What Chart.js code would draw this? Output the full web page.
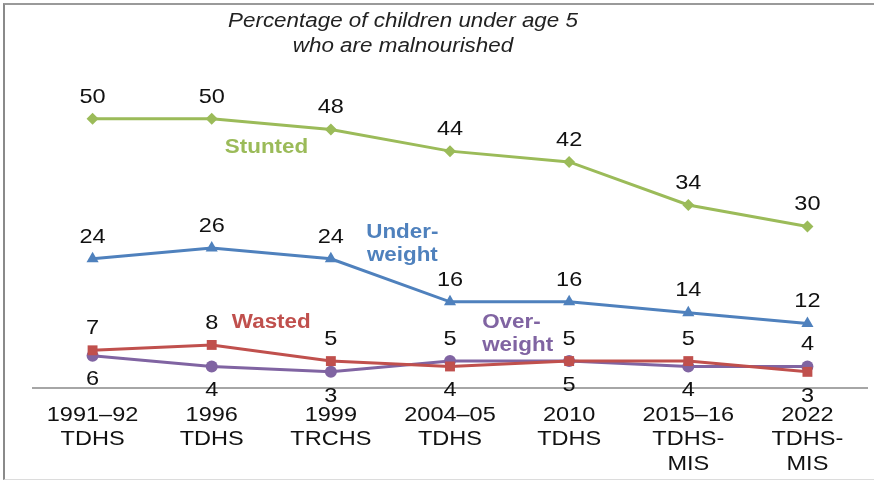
<!DOCTYPE html>
<html>
<head>
<meta charset="utf-8">
<script src="https://cdn.jsdelivr.net/npm/chart.js@4"></script>
<style>
    html, body { margin: 0; padding: 0; background: #fff; }
    #wrap { position: relative; width: 874px; height: 481px; }
    #frame {
        position: absolute; left: 3px; top: 3px; right: 0; bottom: 1px;
        border-top: 2px solid #9a9a9a; border-left: 2px solid #8a8a8a; border-bottom: 1px solid #dcdcdc;
        pointer-events: none;
    }
</style>
</head>
<body>
<div id="wrap">
    <canvas id="chart1" width="874" height="481"></canvas>
    <div id="frame"></div>
</div>
<script>
// Survey rounds (x axis)
const surveys = [
    ["1991\u201392", "TDHS"],
    ["1996", "TDHS"],
    ["1999", "TRCHS"],
    ["2004\u201305", "TDHS"],
    ["2010", "TDHS"],
    ["2015\u201316", "TDHS-", "MIS"],
    ["2022", "TDHS-", "MIS"]
];

// Percent of children under 5
const stunted = [50, 50, 48, 44, 42, 34, 30];
const underweight = [24, 26, 24, 16, 16, 14, 12];
const wasted = [7, 8, 5, 4, 5, 5, 3];
const overweight = [6, 4, 3, 5, 5, 4, 4];

const titleLines = ["Percentage of children under age 5", "who are malnourished"];

// which side of the point each value label sits on
const sides = {
    stunted: ["up", "up", "up", "up", "up", "up", "up"],
    underweight: ["up", "up", "up", "up", "up", "up", "up"],
    wasted: ["up", "up", "up", "down", "down", "up", "down"],
    overweight: ["down", "down", "down", "up", "up", "down", "up"]
};

// series names written next to the lines (x in category index, y in data units)
const seriesNames = [
    { lines: ["Stunted"], x: 1.46, y: 44.6, color: "#9BBB59", align: "center" },
    { lines: ["Under-", "weight"], x: 2.6, y: 26.8, color: "#4F81BD", align: "center" },
    { lines: ["Wasted"], x: 1.5, y: 12.2, color: "#C0504D", align: "center" },
    { lines: ["Over-", "weight"], x: 3.27, y: 10.1, color: "#8064A2", align: "left" }
];

const FONT = "'Liberation Sans', Arial, sans-serif";
const STRETCH = 1.12; // the original text is a bit wide

// text drawn slightly stretched sideways
function wideText(ctx, text, x, y, align) {
    ctx.save();
    ctx.translate(x, y);
    ctx.scale(STRETCH, 1);
    ctx.textAlign = align || "center";
    ctx.fillText(text, 0, 0);
    ctx.restore();
}

const decorPlugin = {
    id: "decor",
    afterDatasetsDraw(chart) {
        const ctx = chart.ctx;
        const xs = chart.scales.x;
        const ys = chart.scales.y;
        ctx.save();
        ctx.textBaseline = "middle";

        // title
        ctx.fillStyle = "#222";
        ctx.font = "italic 20px " + FONT;
        titleLines.forEach((t, i) => wideText(ctx, t, 403, 21 + i * 25));

        // x axis labels
        ctx.font = "21px " + FONT;
        ctx.fillStyle = "#111";
        surveys.forEach((lines, i) => {
            const x = xs.getPixelForValue(i);
            lines.forEach((line, j) => wideText(ctx, line, x, xs.top + 27 + j * 24.5));
        });

        // value labels
        chart.data.datasets.forEach((ds, di) => {
            const meta = chart.getDatasetMeta(di);
            meta.data.forEach((pt, i) => {
                const side = sides[ds.key][i];
                const y = side === "up" ? pt.y - 22 : pt.y + 24;
                wideText(ctx, String(ds.data[i]), pt.x, y);
            });
        });

        // series names
        ctx.font = "bold 20px " + FONT;
        seriesNames.forEach(s => {
            ctx.fillStyle = s.color;
            const x = xs.getPixelForValue(s.x);
            const yc = ys.getPixelForValue(s.y);
            s.lines.forEach((line, i) => {
                wideText(ctx, line, x, yc + (i - (s.lines.length - 1) / 2) * 23, s.align);
            });
        });

        ctx.restore();
    }
};

function makeSeries(key, data, color, style, radius) {
    return {
        key: key,
        data: data,
        borderColor: color,
        backgroundColor: color,
        borderWidth: 3,
        pointStyle: style,
        pointRadius: radius,
        pointHoverRadius: radius,
        pointBorderWidth: 0,
        tension: 0
    };
}

document.addEventListener("DOMContentLoaded", () => {
    const ctx = document.getElementById("chart1").getContext("2d");

    new Chart(ctx, {
        type: "line",
        data: {
            labels: surveys,
            datasets: [
                makeSeries("stunted", stunted, "#9BBB59", "rectRot", 6),
                makeSeries("underweight", underweight, "#4F81BD", "triangle", 7),
                makeSeries("wasted", wasted, "#C0504D", "rect", 7),
                makeSeries("overweight", overweight, "#8064A2", "circle", 6)
            ]
        },
        options: {
            responsive: false,
            animation: false,
            events: [],
            layout: { padding: { top: 65, left: 33, right: 7, bottom: 0 } },
            plugins: {
                legend: { display: false },
                title: { display: false },
                tooltip: { enabled: false }
            },
            scales: {
                x: {
                    offset: true,
                    grid: { display: false, drawTicks: false },
                    border: { display: true, color: "#a6a6a6", width: 2 },
                    ticks: { display: false },
                    afterFit(scale) { scale.height = 93; }
                },
                y: {
                    display: false,
                    min: 0,
                    max: 60
                }
            }
        },
        plugins: [decorPlugin]
    });
});
</script>
</body>
</html>
